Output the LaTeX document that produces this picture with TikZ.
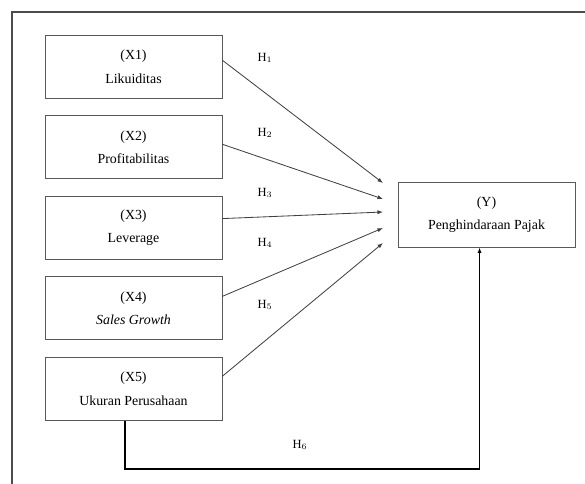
\documentclass[tikz,border=0pt]{standalone}
\usepackage{fontspec}
\setmainfont{Liberation Serif}
\usepackage{tikz}
\usetikzlibrary {arrows.meta,
                 positioning}
\tikzset{
        base/.style={draw=black!65, line width=0.6pt, align=center},
        var/.style={base, rectangle, minimum width=127.4pt, minimum height=45.4pt},
        hyp/.style={font=\small},
        myarrow/.style={-{Latex[length=4pt,width=3pt]}, draw=black!75, line width=0.6pt},
        hsix/.style={-{Latex[length=4pt,width=3pt]}, line width=1.2pt},
        frame/.style={draw=black!70, line width=1.4pt},
 }

\begin{document}
\begin{tikzpicture}[x=0.72pt, y=-0.72pt]
    \useasboundingbox (0,0) rectangle (585,484);
    \draw[frame] (12,484) -- (12,12) -- (585,12);

    \node[var] (x1) at (133.5,66.5) {(X1)\\[5pt]Likuiditas};
    \node[var, below=12pt of x1] (x2) {(X2)\\[5pt]Profitabilitas};
    \node[var, below=12pt of x2] (x3) {(X3)\\[5pt]Leverage};
    \node[var, below=12pt of x3] (x4) {(X4)\\[5pt]\textit{Sales Growth}};
    \node[var, below=12pt of x4] (x5) {(X5)\\[5pt]Ukuran Perusahaan};

    \node[var, minimum height=46.8pt] (y) at (486.5,214.5) {(Y)\\[5pt]Penghindaraan Pajak};

    \coordinate (e1) at (383,183);
    \coordinate (e2) at (383,199);
    \coordinate (e3) at (383,212);
    \coordinate (e4) at (383,228);
    \coordinate (e5) at (383,243);

    \draw[myarrow] ([yshift=4.5pt]x1.east) -- (e1);
    \draw[myarrow] ([yshift=2pt]x2.east) -- (e2);
    \draw[myarrow] ([yshift=6.5pt]x3.east) -- (e3);
    \draw[myarrow] ([yshift=8.5pt]x4.east) -- (e4);
    \draw[myarrow] ([yshift=9pt]x5.east) -- (e5);

    \node[hyp] (h1) at (265,58) {H$_1$};
    \node[hyp] (h2) at (265,133) {H$_2$};
    \node[hyp] (h3) at (265,193) {H$_3$};
    \node[hyp] (h4) at (265,243) {H$_4$};
    \node[hyp] (h5) at (265,305) {H$_5$};
    \node[hyp] (h6) at (300,445) {H$_6$};

    \draw[hsix] ([xshift=-6pt]x5.south) -- ++(0,48) -| ([xshift=-5pt]y.south);
\end{tikzpicture}
\end{document}
